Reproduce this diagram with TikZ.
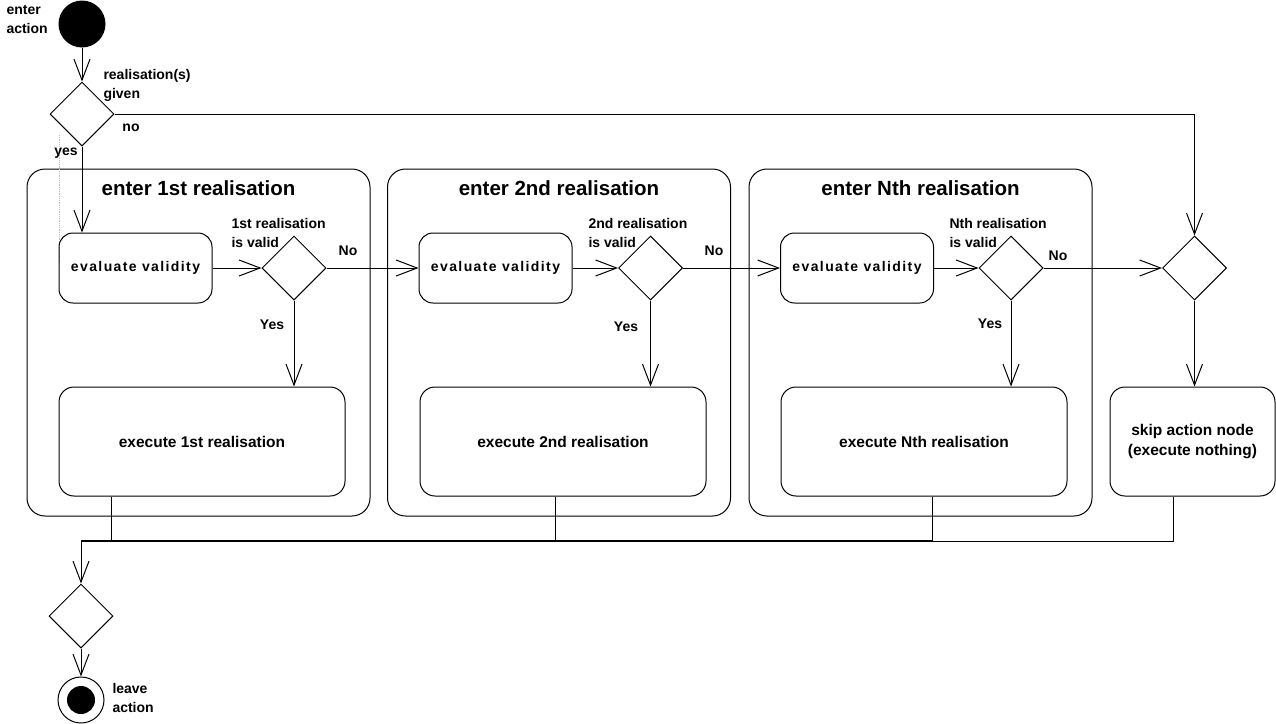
\documentclass[tikz,border=0pt]{standalone}
\usepackage{fontspec}
\setmainfont{Liberation Sans}
\newfontfamily\spacedfont[LetterSpace=10]{Liberation Sans}
\usetikzlibrary{shapes.geometric,arrows.meta,calc}
\begin{document}
\begin{tikzpicture}[x=1pt,y=-1pt,
  line width=1pt,
  >={Straight Barb[length=21pt,width=16pt,line width=1pt]},
  lbl/.style={font=\fontsize{14}{19}\selectfont\bfseries, inner sep=0pt, align=left},
  ttl/.style={font=\fontsize{20.5}{22}\selectfont\bfseries, inner sep=0pt},
  dia/.style={draw, diamond, inner sep=0pt, minimum width=64pt, minimum height=64pt},
  evalbox/.style={draw, rounded corners=14pt, minimum width=153pt, minimum height=70pt, inner sep=0pt, font=\spacedfont\fontsize{14}{16}\selectfont\bfseries},
  execbox/.style={draw, rounded corners=15pt, minimum width=286pt, minimum height=109pt, inner sep=0pt, font=\fontsize{15.5}{20}\selectfont\bfseries, align=center},
  region/.style={draw, rounded corners=18pt, minimum width=343pt, minimum height=347pt, inner sep=0pt}
]
\useasboundingbox (0,0) rectangle (1276,723);

% regions
\node[region] (r1) at (198.5,342.5) {};
\node[region] (r2) at (559,342.5) {};
\node[region] (r3) at (920.5,342.5) {};
\node[ttl] (t1) at (198.5,188) {enter 1st realisation};
\node[ttl] (t2) at (559,188) {enter 2nd realisation};
\node[ttl] (t3) at (920.5,188) {enter Nth realisation};

% dotted artefact
\draw[gray!50, densely dotted, line width=0.8pt] (59,135) -- (59,262);

% start
\node[circle, fill=black, minimum size=47pt, inner sep=0pt] (start) at (82,24) {};
\node[lbl, anchor=west] (startl) at (6,20) {enter\\action};

\node[dia] (d0) at (82,114) {};
\node[lbl, anchor=west] (d0l) at (103,85) {realisation(s)\\given};
\node[lbl] (nol) at (131,128) {no};
\node[lbl] (yesl) at (66,153) {yes};

% evaluate boxes
\node[evalbox] (ev1) at (135.5,268) {evaluate validity};
\node[evalbox] (ev2) at (495.5,268) {evaluate validity};
\node[evalbox] (ev3) at (857,268) {evaluate validity};

% decision diamonds
\node[dia] (d1) at (294,268) {};
\node[dia] (d2) at (650.5,268) {};
\node[dia] (d3) at (1011,268) {};
\node[dia] (dR) at (1194.5,268) {};

\node[lbl, anchor=west] (d1l) at (231,233) {1st realisation\\is valid};
\node[lbl, anchor=west] (d2l) at (588,233) {2nd realisation\\is valid};
\node[lbl, anchor=west] (d3l) at (949,233) {Nth realisation\\is valid};
\node[lbl] (no1) at (348,251) {No};
\node[lbl] (no2) at (714,251) {No};
\node[lbl] (no3) at (1058,256) {No};
\node[lbl] (y1) at (272,325) {Yes};
\node[lbl] (y2) at (626,327) {Yes};
\node[lbl] (y3) at (990,324) {Yes};

% execute boxes
\node[execbox] (ex1) at (202,441.5) {execute 1st realisation};
\node[execbox] (ex2) at (563,441.5) {execute 2nd realisation};
\node[execbox] (ex3) at (924,441.5) {execute Nth realisation};
\node[execbox, minimum width=165pt] (skip) at (1192.5,441.5) {skip action node\\(execute nothing)};

% bottom
\node[dia] (d4) at (81,616) {};
\node[circle, draw, minimum size=46pt, inner sep=0pt] (endc) at (81,700) {};
\node[circle, fill=black, minimum size=28pt, inner sep=0pt] (endi) at (endc) {};
\node[lbl, anchor=west] (endl) at (112,698) {leave\\action};

\coordinate (m) at (81,541);
\coordinate (b1) at ($(ex1.south west)+(53,0)$);
\coordinate (b2) at ($(ex2.south west)+(136,0)$);
\coordinate (b3) at ($(ex3.south west)+(152,0)$);
\coordinate (bs) at ($(skip.south west)+(64,0)$);

% connectors
\draw[->] (start) -- (d0.north);
\draw[->] (d0.south) -- (d0.south |- ev1.north);
\draw[->] (d0.east) -- (dR.north |- d0.east) -- (dR.north);
\draw[->] (ev1.east) -- (d1.west);
\draw[->] (ev2.east) -- (d2.west);
\draw[->] (ev3.east) -- (d3.west);
\draw[->] (d1.east) -- (ev2.west);
\draw[->] (d2.east) -- (ev3.west);
\draw[->] (d3.east) -- (dR.west);
\draw[->] (d1.south) -- (d1.south |- ex1.north);
\draw[->] (d2.south) -- (d2.south |- ex2.north);
\draw[->] (d3.south) -- (d3.south |- ex3.north);
\draw[->] (dR.south) -- (dR.south |- skip.north);

\draw (b1) -- (b1 |- m);
\draw (b2) -- (b2 |- m);
\draw (b3) -- (b3 |- m);
\draw (bs) -- (bs |- m) -- (b3 |- m);
\draw[line width=2pt] (b3 |- m) -- (m);
\draw[->] (m) -- (d4.north);
\draw[->] (d4.south) -- (endc.north);
\end{tikzpicture}
\end{document}
